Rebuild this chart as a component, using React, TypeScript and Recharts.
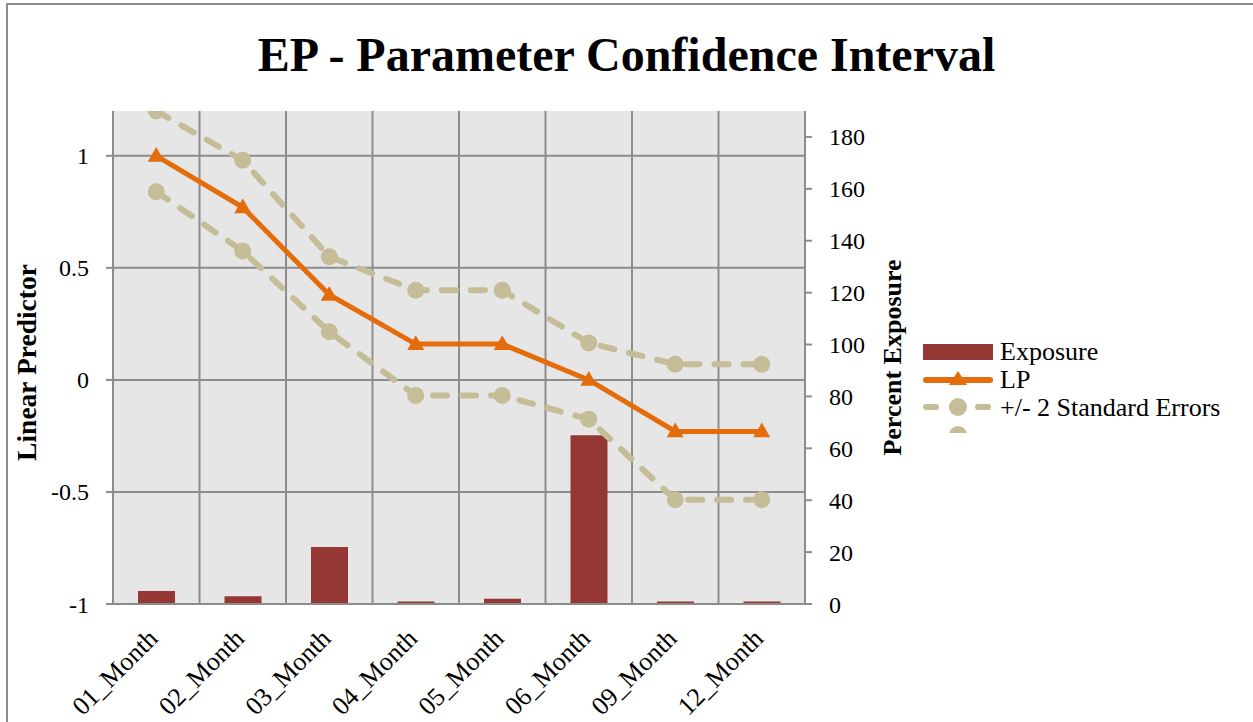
import React from 'react';
import { ComposedChart, Bar, Line, XAxis, YAxis, CartesianGrid, Legend } from 'recharts';

const months = ['01_Month', '02_Month', '03_Month', '04_Month', '05_Month', '06_Month', '09_Month', '12_Month'];
const exposure = [5, 3, 22, 1, 2, 65, 1, 1];
const lp = [1.0, 0.77, 0.38, 0.16, 0.16, 0.0, -0.23, -0.23];
const upperSE = [1.2, 0.98, 0.55, 0.4, 0.4, 0.165, 0.07, 0.07];
const lowerSE = [0.84, 0.575, 0.215, -0.07, -0.07, -0.175, -0.535, -0.535];
const leftTicks = [-1, -0.5, 0, 0.5, 1];
const rightTicks = [0, 20, 40, 60, 80, 100, 120, 140, 160, 180];

const data = months.map((month, i) => ({
  month,
  exposure: exposure[i],
  lp: lp[i],
  upper: upperSE[i],
  lower: lowerSE[i],
}));

const FONT = '"Liberation Serif", "Times New Roman", serif';
const GRID = '#8c8c8c';
const ORANGE = '#E46C0A';
const TAN = '#C4BD97';
const BAR = '#953735';

const triangleDot = (props: any) => {
  const { cx, cy, index } = props;
  if (cx == null || cy == null) return <g key={`t-${index}`} />;
  const s = 17;
  const h = s * 0.87;
  return (
    <path
      key={`t-${index}`}
      d={`M${cx},${cy - h * 0.6} L${cx + s / 2},${cy + h * 0.4} L${cx - s / 2},${cy + h * 0.4} Z`}
      fill={ORANGE}
    />
  );
};

const circleDot = (props: any) => {
  const { cx, cy, index, dataKey } = props;
  if (cx == null || cy == null) return <g key={`c-${dataKey}-${index}`} />;
  return <circle key={`c-${dataKey}-${index}`} cx={cx} cy={cy} r={8.5} fill={TAN} />;
};

const MonthTick = (props: any) => {
  const { x, y, payload } = props;
  const ax = x + 3;
  const ay = y + 28;
  return (
    <text
      x={ax}
      y={ay}
      transform={`rotate(-45 ${ax} ${ay})`}
      textAnchor="end"
      fontSize={26}
      fontFamily={FONT}
      fill="#000"
    >
      {payload.value}
    </text>
  );
};

const LegendBox = () => {
  const row: React.CSSProperties = { display: 'flex', alignItems: 'center', height: 27.7 };
  const label: React.CSSProperties = { fontFamily: FONT, fontSize: 26, color: '#000', marginLeft: 6, lineHeight: '27px' };
  return (
    <div style={{ width: 330 }}>
      <div style={row}>
        <svg width={72} height={24}>
          <rect x={1} y={4} width={70} height={16} fill={BAR} />
        </svg>
        <span style={label}>Exposure</span>
      </div>
      <div style={row}>
        <svg width={72} height={24}>
          <line x1={4} y1={12} x2={68} y2={12} stroke={ORANGE} strokeWidth={6} strokeLinecap="round" />
          <path d="M36,3 L45,17 L27,17 Z" fill={ORANGE} />
        </svg>
        <span style={label}>LP</span>
      </div>
      <div style={row}>
        <svg width={72} height={24}>
          <line x1={4} y1={12} x2={68} y2={12} stroke={TAN} strokeWidth={6} strokeLinecap="round" strokeDasharray="10 16" />
          <circle cx={36} cy={12} r={9} fill={TAN} />
        </svg>
        <span style={label}>+/- 2 Standard Errors</span>
      </div>
      <div style={row}>
        <svg width={72} height={24}>
          <circle cx={36} cy={12} r={9} fill={TAN} />
        </svg>
      </div>
    </div>
  );
};

export default function App() {
  const n = months.length;
  return (
    <div style={{ position: 'absolute', left: 0, top: 0, width: 1253, height: 722, overflow: 'hidden', background: '#fff' }}>
      <div
        style={{
          position: 'absolute',
          left: 6,
          top: 3,
          width: 1300,
          height: 800,
          borderLeft: `2px solid ${GRID}`,
          borderTop: `2px solid ${GRID}`,
        }}
      />
      <div
        style={{
          position: 'absolute',
          left: 0,
          top: 25,
          width: 1253,
          textAlign: 'center',
          fontFamily: FONT,
          fontWeight: 'bold',
          fontSize: 48,
          lineHeight: '60px',
          color: '#000',
        }}
      >
        EP - Parameter Confidence Interval
      </div>
      <div style={{ position: 'absolute', left: 0, top: 0 }}>
        <ComposedChart
          width={1253}
          height={722}
          data={data}
          margin={{ top: 111, right: 348, bottom: 18, left: 33 }}
          barCategoryGap={0}
        >
          <CartesianGrid
            yAxisId="left"
            fill="#e6e6e6"
            fillOpacity={1}
            stroke={GRID}
            strokeWidth={2}
            horizontalValues={leftTicks}
            verticalCoordinatesGenerator={({ offset }: any) =>
              Array.from({ length: n + 1 }, (_, i) => offset.left + (i * offset.width) / n)
            }
          />
          <XAxis
            dataKey="month"
            interval={0}
            height={100}
            tickLine={false}
            axisLine={{ stroke: GRID, strokeWidth: 2 }}
            tick={<MonthTick />}
          />
          <YAxis
            yAxisId="left"
            orientation="left"
            domain={[-1, 1.2]}
            ticks={leftTicks}
            allowDataOverflow
            width={80}
            tickSize={7}
            tickMargin={17}
            axisLine={{ stroke: GRID, strokeWidth: 2 }}
            tickLine={{ stroke: GRID, strokeWidth: 2 }}
            tick={{ fontSize: 24, fontFamily: FONT, fill: '#000' }}
            label={{
              value: 'Linear Predictor',
              angle: -90,
              position: 'insideLeft',
              offset: -7,
              dy: 5,
              style: { textAnchor: 'middle', fontSize: 27.5, fontWeight: 'bold', fontFamily: FONT, fill: '#000' },
            }}
          />
          <YAxis
            yAxisId="right"
            orientation="right"
            domain={[0, 190]}
            ticks={rightTicks}
            allowDataOverflow
            width={100}
            tickSize={7}
            tickMargin={17}
            axisLine={{ stroke: GRID, strokeWidth: 2 }}
            tickLine={{ stroke: GRID, strokeWidth: 2 }}
            tick={{ fontSize: 24, fontFamily: FONT, fill: '#000', textAnchor: 'start' }}
            label={{
              value: 'Percent Exposure',
              angle: -90,
              position: 'insideRight',
              offset: 13,
              style: { textAnchor: 'middle', fontSize: 26, fontWeight: 'bold', fontFamily: FONT, fill: '#000' },
            }}
          />
          <Legend
            layout="vertical"
            align="center"
            verticalAlign="middle"
            content={<LegendBox />}
            wrapperStyle={{ left: 922, top: 338, width: 330, height: 95, overflow: 'hidden' }}
          />
          <Bar
            yAxisId="right"
            dataKey="exposure"
            name="Exposure"
            fill={BAR}
            barSize={37}
            isAnimationActive={false}
          />
          <Line
            yAxisId="left"
            dataKey="upper"
            name="+/- 2 Standard Errors"
            stroke={TAN}
            strokeWidth={6}
            strokeDasharray="14 15"
            strokeLinecap="round"
            dot={circleDot}
            activeDot={false}
            isAnimationActive={false}
          />
          <Line
            yAxisId="left"
            dataKey="lower"
            name=" "
            stroke={TAN}
            strokeWidth={6}
            strokeDasharray="14 15"
            strokeLinecap="round"
            dot={circleDot}
            activeDot={false}
            isAnimationActive={false}
          />
          <Line
            yAxisId="left"
            dataKey="lp"
            name="LP"
            stroke={ORANGE}
            strokeWidth={5}
            dot={triangleDot}
            activeDot={false}
            isAnimationActive={false}
          />
        </ComposedChart>
      </div>
    </div>
  );
}
